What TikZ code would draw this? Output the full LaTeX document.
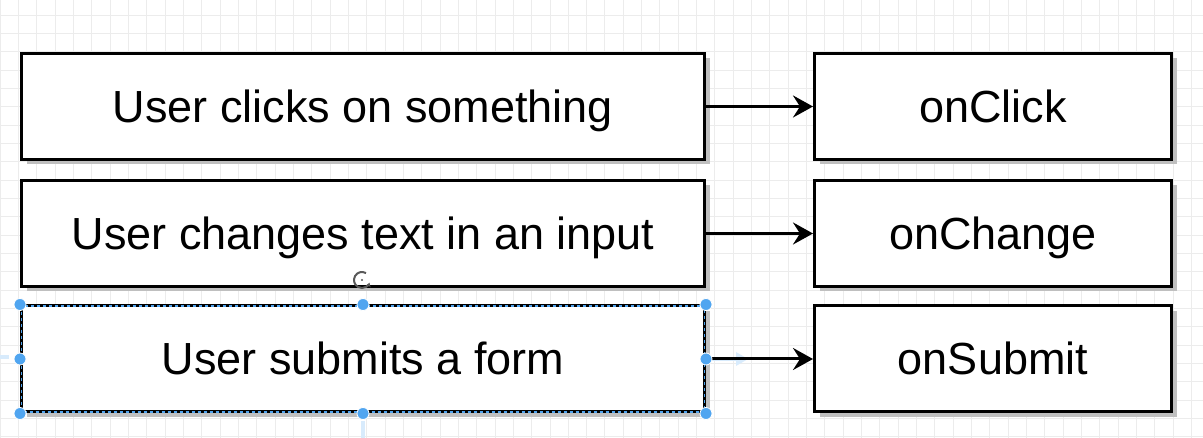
\documentclass[tikz,border=0pt]{standalone}
\usepackage{fontspec}
\setmainfont{Liberation Sans}
\definecolor{selblue}{RGB}{80,165,240}
\definecolor{gridgray}{RGB}{236,236,236}
\usetikzlibrary{arrows.meta,shadows}

\begin{document}
\begin{tikzpicture}[x=1pt,y=-1pt,
  box/.style={draw,line width=3pt,fill=white,inner sep=0pt,
              minimum height=106pt,text height=34pt,text depth=2pt,
              font=\fontsize{45}{52}\selectfont,
              drop shadow={shadow xshift=5pt,shadow yshift=-5pt,fill=black!25,opacity=1}},
  act/.style={box,minimum width=683pt},
  evt/.style={box,minimum width=357pt},
  link/.style={line width=3pt,-{Stealth[length=20pt,width=22pt,inset=7pt]}},
  handle/.style={circle,fill=selblue,draw=white,line width=0.8pt,
                 inner sep=0pt,minimum size=12pt},
  hover/.style={selblue!22,line width=4pt},
  gridline/.style={gridgray,line width=0.8pt}]
  \useasboundingbox (0,0) rectangle (1203,438);
  \fill[white] (0,0) rectangle (1203,438);
  % background grid
  \foreach \i in {0,...,66} \draw[gridline] (\i*18.33,0) -- (\i*18.33,438);
  \foreach \j in {0,...,23} \draw[gridline] (0,15+\j*18.33) -- (1203,15+\j*18.33);

  \node[act] (click)  at (363,106.5) {User clicks on something};
  \node[act] (change) at (363,233.5) {User changes text in an input};
  \node[act] (submit) at (363,359)   {User submits a form};
  \node[evt] (onclick)  at (993,106.5) {onClick};
  \node[evt] (onchange) at (993,233.5) {onChange};
  \node[evt] (onsubmit) at (993,359)   {onSubmit};

  % faint hover arrows round the selected shape
  \draw[hover] (0,357) -- (9,357);
  \draw[hover] (submit.east) ++(4,0) -- ++(28,0);
  \fill[selblue!22] (submit.east) ++(30,-7) -- ++(12,7) -- ++(-12,7) -- cycle;
  \draw[hover] (submit.south) ++(0,8) -- ++(0,20);

  \draw[link] (click) -- (onclick);
  \draw[link] (change) -- (onchange);
  \draw[link] (submit) -- (onsubmit);

  % selection of the third shape
  \draw[selblue,line width=1.3pt,dash pattern=on 3pt off 3pt]
    (submit.north west) ++(1.5,1.5) rectangle ([shift={(-1.5,-1.5)}]submit.south east);
  \foreach \a in {north west,north,north east,east,south east,south,south west,west}
    \node[handle] at (submit.\a) {};
  \coordinate (rot) at (362,280);
  \draw[black!65,line width=2pt,-{Stealth[length=4pt,width=5pt]}]
    (rot) ++(300:8) arc (300:20:8);
  \fill[black!65] (rot) circle (1.2);
\end{tikzpicture}
\end{document}
